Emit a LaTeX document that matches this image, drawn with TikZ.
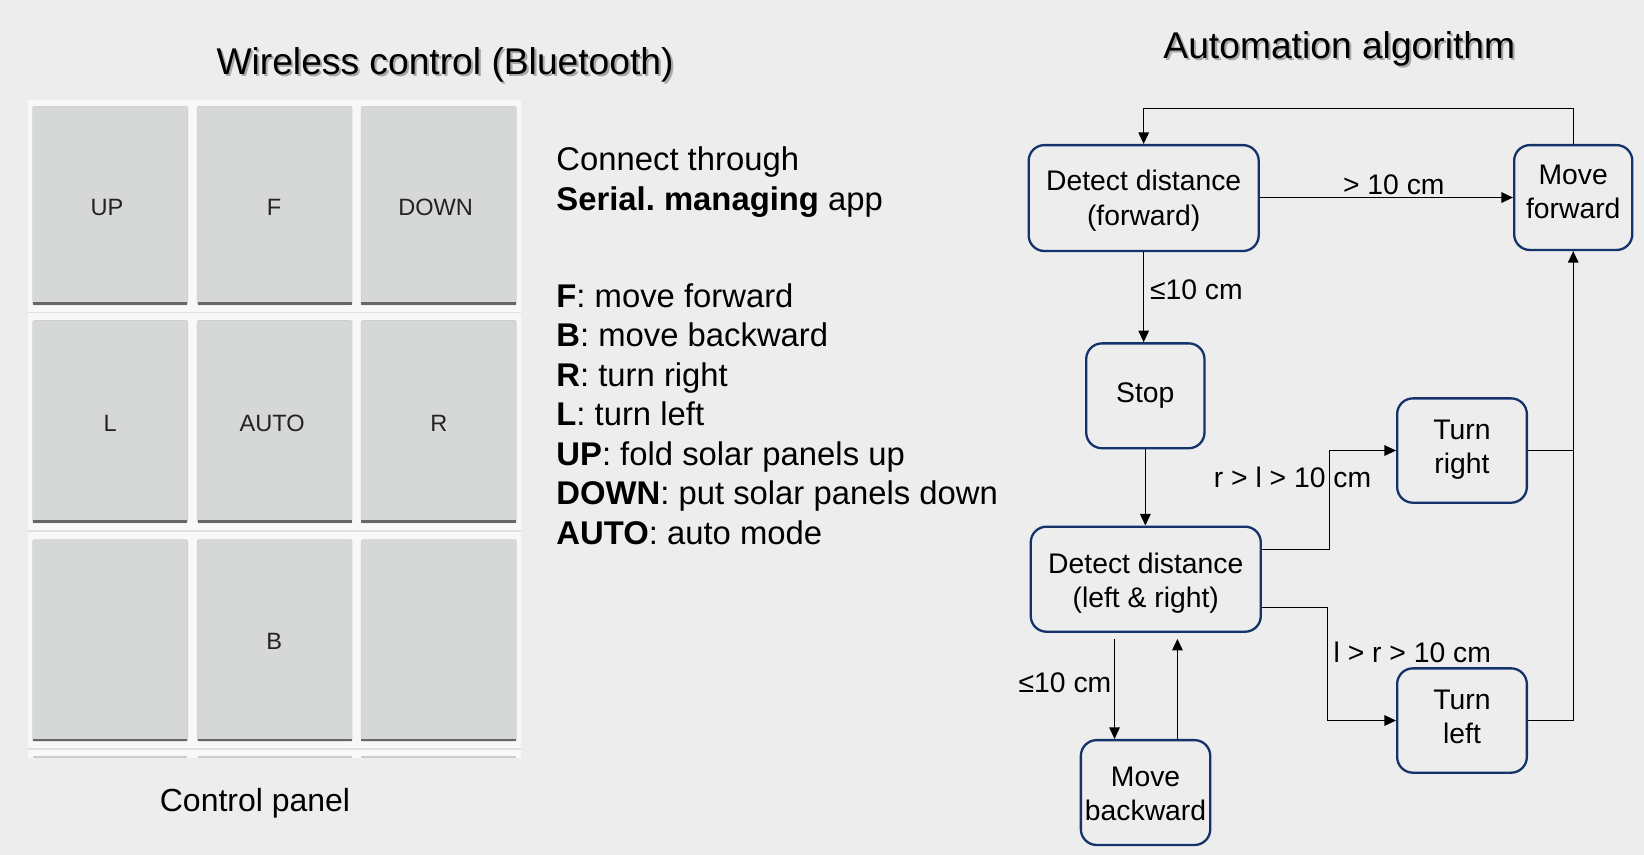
\documentclass[tikz,border=0pt]{standalone}
\usepackage{fontspec}
\setmainfont{Liberation Sans}
\usetikzlibrary{arrows.meta}
\frenchspacing
\definecolor{bg}{HTML}{EDEDED}
\definecolor{panelbg}{HTML}{F8F8F8}
\definecolor{btn}{HTML}{D6D8D8}
\definecolor{btnedge}{HTML}{CCCECE}
\definecolor{btnline}{HTML}{666666}
\definecolor{sepline}{HTML}{E0E0E0}
\definecolor{navy}{HTML}{14336B}
\definecolor{btntext}{HTML}{222222}
\newcommand{\fsz}[2]{\fontsize{#1}{#2}\selectfont}
\newcommand{\boxtext}[2]{\raisebox{#1}[\height][\depth]{\begin{tabular}{@{}c@{}}#2\end{tabular}}}
\tikzset{
  flowbox/.style={draw=navy, line width=2.2pt, rounded corners=15pt, fill=bg,
    font=\fsz{27}{32.5}, inner sep=0pt},
  conn/.style={line width=1.3pt, -{Triangle[length=11pt,width=10pt]}},
  plainconn/.style={line width=1.3pt},
  lbl/.style={font=\fsz{27}{31.8}, inner sep=0pt, anchor=base west},
  bodytxt/.style={font=\fsz{31.3}{37.6}, inner sep=0pt, anchor=base west},
  titletxt/.style={font=\fsz{35.5}{40}, inner sep=0pt, anchor=base},
  titleshadow/.style={titletxt, text=black!45, opacity=0.7},
  btnlabel/.style={font=\fsz{22.5}{26}, text=btntext, inner sep=0pt, anchor=base},
}
\begin{document}
\begin{tikzpicture}[x=1pt,y=-1pt]
\fill[bg] (0,0) rectangle (1568,815);
\useasboundingbox (0,0) rectangle (1568,815);

% ---------- titles ----------
\node[titleshadow] (t1s) at (426.5,72.6) {Wireless control (Bluetooth)};
\node[titletxt] (t1) at (424.5,70.6) {Wireless control (Bluetooth)};
\node[titleshadow] (t2s) at (1279.4,57.6) {Automation algorithm};
\node[titletxt] (t2) at (1277.4,55.6) {Automation algorithm};

% ---------- control panel ----------
\fill[panelbg] (26.6,95.4) rectangle (497.3,722.6);
\foreach \xa/\xb in {31.4/178.8,188.4/335.5,344.7/492.2}{
  \foreach \ya/\yb in {101.7/289.5,306/497.5,515/705.8}{
    \fill[btnedge, rounded corners=2pt] (\xa-0.6,\ya-0.6) rectangle (\xb+0.6,\yb+1.4);
    \fill[btn, rounded corners=2pt] (\xa,\ya) rectangle (\xb,\yb+1.4);
    \fill[btnline] (\xa,\yb-1.4) rectangle (\xb,\yb+1.4);
  }
  \fill[btnedge] (\xa,720.8) rectangle (\xb,722.6);
}
\foreach \yy in {298,506.3,714.4}{
  \draw[sepline, line width=1.5pt] (26.6,\yy) -- (497.3,\yy);
}
\node[btnlabel] (bup) at (102.0,205.1) {UP};
\node[btnlabel] (bf) at (261.5,205.1) {F};
\node[btnlabel] (bdown) at (415.5,205.1) {DOWN};
\node[btnlabel] (bl) at (105.1,411.6) {L};
\node[btnlabel] (bauto) at (259.5,411.6) {AUTO};
\node[btnlabel] (br) at (418.5,411.6) {R};
\node[btnlabel] (bb) at (261.5,619.8) {B};
\node[font=\fsz{30.5}{36}, inner sep=0pt, anchor=base] (cpanel) at (243.2,774.3) {Control panel};

% ---------- command text ----------
\node[bodytxt] (c1) at (530.5,162.8) {Connect through};
\node[bodytxt] (c2) at (530.5,201.2) {\textbf{Serial. managing} app};
\node[bodytxt] (k1) at (530.5,292.9) {\textbf{F}: move forward};
\node[bodytxt] (k2) at (530.5,330.6) {\textbf{B}: move backward};
\node[bodytxt] (k3) at (530.5,368.3) {\textbf{R}: turn right};
\node[bodytxt] (k4) at (530.5,406.0) {\textbf{L}: turn left};
\node[bodytxt] (k5) at (530.5,443.7) {\textbf{UP}: fold solar panels up};
\node[bodytxt] (k6) at (530.5,481.4) {\textbf{DOWN}: put solar panels down};
\node[bodytxt] (k7) at (530.5,519.1) {\textbf{AUTO}: auto mode};

% ---------- flowchart ----------
\node[flowbox, minimum width=219.4pt, minimum height=101pt] (dfwd) at (1090.8,188.9) {\boxtext{-3pt}{Detect distance\\(forward)}};
\node[flowbox, minimum width=112.7pt, minimum height=100pt] (mfwd) at (1500.5,188.4) {\boxtext{3pt}{Move\\forward}};
\node[flowbox, minimum width=112.8pt, minimum height=100pt] (stop) at (1092.4,377.5) {\boxtext{0pt}{Stop}};
\node[flowbox, minimum width=219.4pt, minimum height=100.2pt] (dlr) at (1092.8,552.4) {\boxtext{-4pt}{Detect distance\\(left \& right)}};
\node[flowbox, minimum width=123.7pt, minimum height=99.5pt] (tright) at (1394.4,429.7) {\boxtext{0.5pt}{Turn\\right}};
\node[flowbox, minimum width=123.7pt, minimum height=99.5pt] (tleft) at (1394.4,687.2) {\boxtext{1pt}{Turn\\left}};
\node[flowbox, minimum width=123.4pt, minimum height=100pt] (mback) at (1092.6,755.9) {\boxtext{-3.5pt}{Move\\backward}};

\coordinate (looptop) at (1300,103.3);
\coordinate (rbend) at (1268,0);
\coordinate (lbend) at (1266.3,0);
\coordinate (bd1) at ([xshift=-29.8pt,yshift=-5.7pt]dlr.south);
\coordinate (bu1) at ([xshift=30.2pt,yshift=-5.7pt]dlr.south);

\draw[conn] (mfwd.north) |- (looptop) -| (dfwd.north);
\draw[conn] (dfwd.east |- mfwd.west) -- (mfwd.west);
\draw[conn] (dfwd.south) -- (dfwd.south |- stop.north);
\draw[conn] (stop.south) -- (stop.south |- dlr.north);
\draw[conn] ([yshift=28.5pt]dlr.east) -| (rbend |- tright.west) -- (tright.west);
\draw[conn] ([yshift=-27.2pt]dlr.east) -| (lbend |- tleft.west) -- (tleft.west);
\draw[plainconn] (tright.east) -- (tright.east -| mfwd.south);
\draw[conn] (tleft.east) -| (mfwd.south);
\draw[conn] (bd1) -- (bd1 |- mback.north);
\draw[conn] (bu1 |- mback.north) -- (bu1);

\node[lbl] (l1) at (1280.8,185.6) {> 10 cm};
\node[lbl] (l2) at (1096.7,285.5) {≤10 cm};
\node[lbl] (l3) at (1157.5,465.2) {r > l > 10 cm};
\node[lbl] (l4) at (1271.8,632.1) {l > r > 10 cm};
\node[lbl] (l5) at (971.4,660) {≤10 cm};
\end{tikzpicture}
\end{document}
